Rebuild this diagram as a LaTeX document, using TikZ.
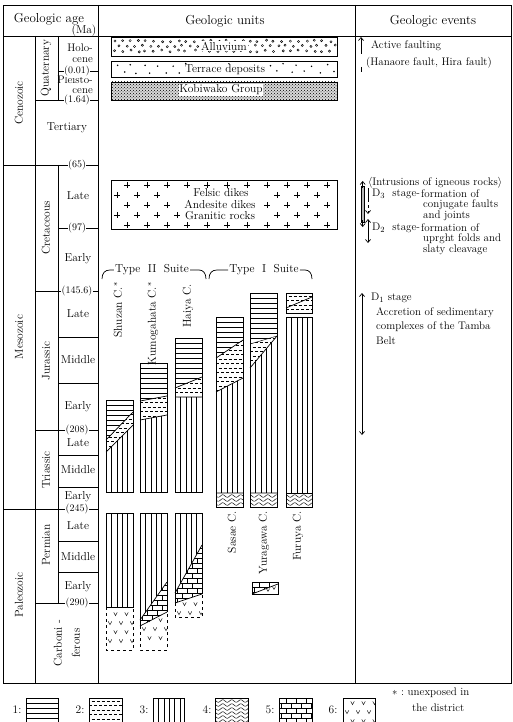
\documentclass[tikz,border=0pt]{standalone}
\usetikzlibrary{arrows.meta,patterns}
\tikzset{
  frame/.style={line width=0.9pt},
  thinl/.style={line width=0.7pt},
  col/.style={line width=0.7pt},
  patline/.style={line width=0.45pt},
  lbl/.style={font=\fontsize{11.5}{12}\selectfont, inner sep=1pt},
  num/.style={font=\fontsize{10}{11}\selectfont, fill=white, inner sep=0.6pt},
  hdr/.style={font=\fontsize{13}{14}\selectfont},
  ev/.style={font=\fontsize{11}{12}\selectfont, anchor=west, inner sep=0pt},
  tip/.style={-{Straight Barb[length=3pt,width=5pt]}},
  tips/.style={{Straight Barb[length=3pt,width=5pt]}-{Straight Barb[length=3pt,width=5pt]}},
}
\newcommand\reg[2]{\begin{scope}\clip #1; #2\end{scope}}
% horizontal lines
\newcommand\PH[4]{\pgfmathsetmacro\mya{#3+5}\foreach \yy in {#3,\mya,...,#4}{\draw[patline] (#1,\yy)--(#2,\yy);}}
% vertical lines
\newcommand\PV[4]{\pgfmathsetmacro\mya{#1+5.4}\foreach \xx in {#1,\mya,...,#2}{\draw[patline] (\xx,#3)--(\xx,#4);}}
% dashed lines
\newcommand\PD[4]{\pgfmathsetmacro\mya{#3+4.5}\foreach \yy [count=\ii] in {#3,\mya,...,#4}{\pgfmathsetmacro\myb{mod(\ii,2)*2.5}\draw[patline,dash pattern=on 3pt off 2pt,dash phase=\myb pt] (#1,\yy)--(#2,\yy);}}
% wavy lines
\newcommand\PW[4]{\pgfmathsetmacro\mya{#3+4}\foreach \yy in {#3,\mya,...,#4}{\draw[patline] plot[domain=#1:#2,samples=30,smooth] (\x,{\yy+1.3*sin(\x*40)});}}
% bricks
\newcommand\PB[4]{\pgfmathsetmacro\mya{#3+5}\foreach \yy [count=\ii] in {#3,\mya,...,#4}{\draw[patline] (#1,\yy)--(#2,\yy);\pgfmathsetmacro\myc{#1+2+mod(\ii,2)*5}\pgfmathsetmacro\myd{\myc+10}\foreach \xx in {\myc,\myd,...,#2}{\draw[patline] (\xx,\yy)--(\xx,\yy+5);}}}
% v marks
\newcommand\PVee[4]{\pgfmathsetmacro\mya{#3+9}\foreach \yy [count=\ii] in {#3,\mya,...,#4}{\pgfmathsetmacro\myc{#1+4+mod(\ii,2)*5.5}\pgfmathsetmacro\myd{\myc+11}\foreach \xx in {\myc,\myd,...,#2}{\draw[patline] (\xx-1.8,\yy-1.6)--(\xx,\yy+1.6)--(\xx+1.8,\yy-1.6);}}}
\begin{document}
\begin{tikzpicture}[x=1pt,y=-1pt]
\useasboundingbox (0,0) rectangle (513,722);
\clip (0,0) rectangle (513,722);
% ---------------- frame
\draw[frame] (3,5) rectangle (511,683);
\draw[frame] (3,36) -- (511,36);
\draw[frame] (98,5) -- (98,683);
\draw[frame] (355,5) -- (355,683);
\draw[thinl] (35,36) -- (35,683);
\draw[thinl] (58,36) -- (58,100);
\draw[thinl] (58,165) -- (58,603);
\draw[thinl] (58,71) -- (98,71);
\draw[thinl] (35,100) -- (98,100);
\draw[thinl] (3,165) -- (98,165);
\draw[thinl] (58,228) -- (98,228);
\draw[thinl] (35,291) -- (98,291);
\draw[thinl] (58,337) -- (98,337);
\draw[thinl] (58,383) -- (98,383);
\draw[thinl] (35,430) -- (98,430);
\draw[thinl] (58,455) -- (98,455);
\draw[thinl] (58,487) -- (98,487);
\draw[thinl] (3,509) -- (98,509);
\draw[thinl] (58,541) -- (98,541);
\draw[thinl] (58,572) -- (98,572);
\draw[thinl] (35,603) -- (98,603);
% ---------------- headers
\node[hdr] (hage) at (49,19) {Geologic age};
\node[lbl] (hma) at (84,31) {(Ma)};
\node[hdr] (hunits) at (225,21) {Geologic units};
\node[hdr] (hevents) at (433,21) {Geologic events};
% ---------------- eras / periods
\node[lbl,rotate=90] (cen) at (19,103) {Cenozoic};
\node[lbl,rotate=90] (mes) at (19,337) {Mesozoic};
\node[lbl,rotate=90] (pal) at (19,595) {Paleozoic};
\node[lbl,rotate=90] (quat) at (46,68) {Quaternary};
\node[lbl] (tert) at (67,128) {Tertiary};
\node[lbl,rotate=90] (cret) at (46,228) {Cretaceous};
\node[lbl,rotate=90] (jur) at (46,361) {Jurassic};
\node[lbl,rotate=90] (tri) at (46,470) {Triassic};
\node[lbl,rotate=90] (perm) at (46,545) {Permian};
\node[lbl,rotate=90,align=center,font=\fontsize{11.5}{18}\selectfont] (carb) at (67,643) {Carboni -\\ferous};
% ---------------- epochs
\node[lbl,align=right,anchor=east,font=\fontsize{11}{11}\selectfont] (holo) at (94,53) {Holo-\\cene};
\node[lbl,align=right,anchor=east,font=\fontsize{11}{10}\selectfont] (pleis) at (94,85) {Pleisto-\\cene};
\node[lbl] (kl) at (78,196) {Late};
\node[lbl] (ke) at (78,259) {Early};
\node[lbl] (jl) at (78,314) {Late};
\node[lbl] (jm) at (78,360) {Middle};
\node[lbl] (je) at (78,407) {Early};
\node[lbl] (tl) at (78,443) {Late};
\node[lbl] (tm) at (78,470) {Middle};
\node[lbl] (te) at (78,497) {Early};
\node[lbl] (pl) at (78,526) {Late};
\node[lbl] (pm) at (78,557) {Middle};
\node[lbl] (pe) at (78,587) {Early};
% ---------------- ages
\node[num] (a1) at (77,71) {(0.01)};
\node[num] (a2) at (77,100) {(1.64)};
\node[num] (a3) at (77,165) {(65)};
\node[num] (a4) at (77,228) {(97)};
\node[num] (a5) at (77,291) {(145.6)};
\node[num] (a6) at (77,430) {(208)};
\node[num] (a7) at (77,509) {(245)};
\node[num] (a8) at (77,603) {(290)};
% ---------------- Quaternary units
\draw[col] (111,37) rectangle (337,56);
\pgfmathsetseed{11}
\foreach \r/\yy in {0/41,1/46,0/51}{
  \foreach \k in {0,...,27}{
    \pgfmathsetmacro\mya{114+\k*8+\r*4+rand*1.5}
    \pgfmathsetmacro\myb{\yy+rand*1}
    \draw[patline] (\mya,\myb) circle (1.1);}}
\node[lbl,fill=white] (alluv) at (224,46) {Alluvium};
\draw[col] (111,61) rectangle (337,77);
\foreach \r/\yy in {0/65,1/72}{
  \foreach \k in {0,...,15}{
    \pgfmathsetmacro\mya{116+\k*14+\r*7+rand*2}
    \pgfmathsetmacro\myb{\yy+rand*1.5}
    \fill (\mya,\myb) circle (0.85);}}
\node[lbl,fill=white] (terr) at (225,70) {Terrace deposits};
\fill[gray!30] (111,82) rectangle (337,100);
\fill[pattern=crosshatch dots] (111,82) rectangle (337,100);
\draw[col] (111,82) rectangle (337,100);
\node[lbl,fill=white,inner sep=0.5pt] (kobi) at (221,90) {Kobiwako Group};
% ---------------- igneous
\draw[col] (111,180) rectangle (337,229);
\foreach \yy/\s/\a/\b in {185/127/400/400, 195/117/170/270, 205/127/172/262, 215/117/180/270, 225/127/400/400}{
  \foreach \k in {0,...,10}{
    \pgfmathsetmacro\mya{\s+\k*20}
    \pgfmathtruncatemacro\myc{(\mya>\a)&&(\mya<\b)}
    \ifnum\myc=0
      \draw[line width=0.7pt] (\mya-3,\yy)--(\mya+3,\yy) (\mya,\yy-3)--(\mya,\yy+3);
    \fi}}
\node[lbl] (fel) at (221,193) {Felsic dikes};
\node[lbl] (and) at (220,204) {Andesite dikes};
\node[lbl] (gra) at (220,216) {Granitic rocks};
% ---------------- suites
\node[lbl] (t2) at (152,270) {Type\ \ II\ \ Suite};
\draw[col] (102,279) .. controls (102,273) and (105,270) .. (110,270) -- (t2.west);
\draw[col] (t2.east) -- (199,270) .. controls (203,270) and (206,273) .. (206,279);
\node[lbl] (t1) at (264,270) {Type\ \ I\ \ Suite};
\draw[col] (209,279) .. controls (209,273) and (212,270) .. (217,270) -- (t1.west);
\draw[col] (t1.east) -- (305,270) .. controls (309,270) and (312,273) .. (312,279);
\node[lbl,rotate=90,anchor=east] (shu) at (118,281) {Shuzan C.$^{*}$};
\node[lbl,rotate=90,anchor=east] (kum) at (153,281) {Kumogahata C.$^{*}$};
\node[lbl,rotate=90,anchor=east] (hai) at (188,283) {Haiya C.};
\node[lbl,rotate=90,anchor=east] (sas) at (232,510) {Sasae C.};
\node[lbl,rotate=90,anchor=east] (yur) at (264,510) {Yuragawa C.};
\node[lbl,rotate=90,anchor=east] (fur) at (298,510) {Furuya C.};
% ---------------- Shuzan
\reg{(106,400)--(133,400)--(133,412)--(106,440)--cycle}{\PH{106}{133}{400}{445}}
\reg{(106,440)--(133,412)--(133,425)--(106,452)--cycle}{\PD{106}{133}{410}{455}}
\reg{(106,452)--(133,425)--(133,492)--(106,492)--cycle}{\PV{106}{133}{420}{492}}
\draw[col] (106,400) rectangle (133,492);
\draw[col] (106,440)--(133,412) (106,452)--(133,425);
\reg{(106,513) rectangle (133,607)}{\PV{106}{133}{513}{607}}
\reg{(106,607) rectangle (133,650)}{\PVee{106}{133}{614}{646}}
\draw[col] (106,607)--(106,513)--(133,513)--(133,607)--cycle;
\draw[col,dashed] (106,607)--(106,650)--(133,650)--(133,607);
% ---------------- Kumogahata
\reg{(140,363)--(167,363)--(167,396)--(140,401)--cycle}{\PH{140}{167}{363}{402}}
\reg{(140,401)--(167,396)--(167,415)--(140,420)--cycle}{\PD{140}{167}{398}{420}}
\reg{(140,420)--(167,415)--(167,492)--(140,492)--cycle}{\PV{140}{167}{414}{492}}
\draw[col] (140,363) rectangle (167,492);
\draw[col] (140,401)--(167,396) (140,420)--(167,415);
\reg{(140,513)--(167,513)--(167,582)--(140,620)--cycle}{\PV{140}{167}{513}{620}}
\reg{(140,620)--(167,582)--(167,612)--(140,626)--cycle}{\PB{140}{167}{580}{630}}
\reg{(140,626)--(167,612)--(167,650)--(140,650)--cycle}{\PVee{140}{167}{620}{646}}
\draw[col] (140,626)--(140,513)--(167,513)--(167,612);
\draw[col] (140,620)--(167,582) (140,626)--(167,612);
\draw[col,dashed] (140,626)--(140,650)--(167,650)--(167,612);
% ---------------- Haiya
\reg{(175,338)--(202,338)--(202,377)--(175,388)--cycle}{\PH{175}{202}{338}{390}}
\reg{(175,388)--(202,377)--(202,397)--(175,397)--cycle}{\PD{175}{202}{379}{397}}
\reg{(175,397) rectangle (202,492)}{\PV{175}{202}{397}{492}}
\draw[col] (175,338) rectangle (202,492);
\draw[col] (175,388)--(202,377) (175,397)--(202,397);
\reg{(175,513)--(202,513)--(202,545)--(175,593)--cycle}{\PV{175}{202}{513}{593}}
\reg{(175,593)--(202,545)--(202,594)--(175,603)--cycle}{\PB{175}{202}{543}{605}}
\reg{(175,603)--(202,594)--(202,617)--(175,617)--cycle}{\PVee{175}{202}{604}{614}}
\draw[col] (175,603)--(175,513)--(202,513)--(202,594);
\draw[col] (175,593)--(202,545) (175,603)--(202,594);
\draw[col,dashed] (175,603)--(175,617)--(202,617)--(202,594);
% ---------------- Sasae
\reg{(216,317)--(243,317)--(243,340)--(216,358)--cycle}{\PH{216}{243}{317}{360}}
\reg{(216,358)--(243,340)--(243,378)--(216,392)--cycle}{\PD{216}{243}{341}{392}}
\reg{(216,392)--(243,378)--(243,493)--(216,493)--cycle}{\PV{216}{243}{378}{493}}
\reg{(216,493) rectangle (243,507)}{\PW{216}{243}{496}{506}}
\draw[col] (216,317) rectangle (243,507);
\draw[col] (216,358)--(243,340) (216,392)--(243,378) (216,493)--(243,493);
% ---------------- Yuragawa
\reg{(250,293)--(277,293)--(277,336)--(250,344)--cycle}{\PH{250}{277}{293}{345}}
\reg{(250,344)--(277,336)--(250,368)--cycle}{\PD{250}{277}{338}{368}}
\reg{(250,368)--(277,336)--(277,493)--(250,493)--cycle}{\PV{250}{277}{336}{493}}
\reg{(250,493) rectangle (277,507)}{\PW{250}{277}{496}{506}}
\draw[col] (250,293) rectangle (277,507);
\draw[col] (250,368)--(277,336) (250,493)--(277,493);
\draw[patline] (250,344)--(277,336);
\reg{(252,582)--(278,582)--(278,584)--(252,594)--cycle}{\PB{252}{278}{582}{594}}
\draw[col] (252,582) rectangle (278,594);
\draw[col] (252,594)--(278,584);
\foreach \xx/\yy in {268/590,274/588}{\draw[patline] (\xx-1.6,\yy-1.4)--(\xx,\yy+1.4)--(\xx+1.6,\yy-1.4);}
% ---------------- Furuya
\reg{(286,293) rectangle (312,313)}{\PD{286}{312}{296}{312}}
\draw[col] (286,293) rectangle (312,313);
\draw[col] (286,308)--(312,297);
\reg{(286,317) rectangle (312,493)}{\PV{286}{312}{317}{493}}
\reg{(286,493) rectangle (312,507)}{\PW{286}{312}{496}{506}}
\draw[col] (286,317) rectangle (312,507);
\draw[col] (286,493)--(312,493);
% ---------------- events
\coordinate (af1) at (361,54); \coordinate (af0) at (361,37);
\coordinate (af2) at (361,67); \coordinate (af3) at (361,72);
\draw[thinl,tip] (af1) -- (af0);
\draw[thinl] (af2) -- (af3);
\node[ev] (act) at (371,46) {Active faulting};
\node[ev] (han) at (366,63) {(Hanaore fault, Hira fault)};
% intrusions bar
\filldraw[fill=gray!55,draw=black,line width=0.4pt] (361,186) rectangle (364.5,222);
\coordinate (ib0) at (362.7,188); \coordinate (ib1) at (362.7,181);
\coordinate (ib2) at (362.7,220); \coordinate (ib3) at (362.7,227);
\draw[thinl,tip] (ib0) -- (ib1);
\draw[thinl,tip] (ib2) -- (ib3);
\node[ev] (intr) at (368,183) {$\langle$Intrusions of igneous rocks$\rangle$};
\coordinate (d3a) at (368,188); \coordinate (d3b) at (368,199); \coordinate (d3c) at (368,214);
\draw[thinl] (d3a) -- (d3b);
\draw[thinl,dashed,tip] (d3b) -- (d3c);
\node[ev] (d3) at (372,194) {D$_3$\ \ stage-};
\node[ev] (d3t1) at (421,194) {formation of};
\node[ev] (d3t2) at (423,205) {conjugate faults};
\node[ev] (d3t3) at (423,216) {and joints};
\coordinate (d2a) at (368,219); \coordinate (d2b) at (368,243);
\draw[thinl,tips] (d2a) -- (d2b);
\node[ev] (d2) at (372,228) {D$_2$\ \ stage-};
\node[ev] (d2t1) at (421,228) {formation of};
\node[ev] (d2t2) at (423,239) {uprght folds and};
\node[ev] (d2t3) at (423,250) {slaty cleavage};
\coordinate (d1a) at (362,293); \coordinate (d1b) at (362,435);
\draw[thinl,tips] (d1a) -- (d1b);
\node[ev] (d1) at (371,298) {D$_1$ stage};
\node[ev] (d1t1) at (376,313) {Accretion of sedimentary};
\node[ev] (d1t2) at (376,327) {complexes of the Tamba};
\node[ev] (d1t3) at (376,341) {Belt};
% ---------------- legend
\node[lbl] (l1) at (17,710) {1:};
\reg{(26,698) rectangle (58,725)}{\PH{26}{58}{698}{725}}
\draw[col] (26,725)--(26,698)--(58,698)--(58,725);
\node[lbl] (l2) at (80,710) {2:};
\reg{(89,698) rectangle (122,725)}{\PD{89}{122}{701}{725}}
\draw[col] (89,725)--(89,698)--(122,698)--(122,725);
\node[lbl] (l3) at (144,710) {3:};
\reg{(153,698) rectangle (184,725)}{\PV{153}{184}{698}{725}}
\draw[col] (153,725)--(153,698)--(184,698)--(184,725);
\node[lbl] (l4) at (207,710) {4:};
\reg{(215,698) rectangle (248,725)}{\PW{215}{248}{701}{725}}
\draw[col] (215,725)--(215,698)--(248,698)--(248,725);
\node[lbl] (l5) at (270,710) {5:};
\reg{(279,698) rectangle (312,725)}{\PB{279}{312}{698}{725}}
\draw[col] (279,725)--(279,698)--(312,698)--(312,725);
\node[lbl] (l6) at (333,710) {6:};
\reg{(343,698) rectangle (375,725)}{\PVee{343}{375}{703}{725}}
\draw[col] (343,725)--(343,698)--(375,698)--(375,725);
\node[ev] (ast) at (392,693) {\textasteriskcentered\ :\ unexposed in};
\node[ev] (ast2) at (412,708) {the district};
\end{tikzpicture}
\end{document}
